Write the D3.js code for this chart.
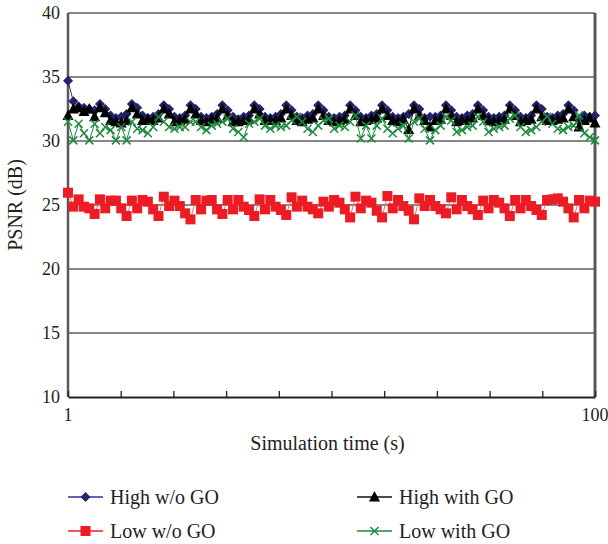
<!DOCTYPE html>
<html>
<head>
<meta charset="utf-8">
<script src="https://cdn.jsdelivr.net/npm/d3@7"></script>
<style>
  html, body { margin: 0; padding: 0; background: #fff; }
  svg { display: block; }
  text { font-family: "Liberation Serif", "DejaVu Serif", serif; fill: #231f20; }
</style>
</head>
<body>
<svg id="chart" width="608" height="544"></svg>
<script>
// Simulation time in seconds, one sample per second
const times = d3.range(1, 101);

// PSNR (dB) per second for each configuration
const highNoGO = [
  34.7, 33.1, 32.7, 32.6, 32.5, 32.4, 32.9, 32.5, 32.0, 31.8,
  31.9, 32.1, 32.9, 32.6, 32.0, 31.8, 31.9, 32.1, 32.8, 32.5,
  31.9, 31.8, 32.0, 32.8, 32.5, 31.9, 31.8, 31.9, 32.1, 32.8,
  32.4, 31.9, 31.7, 31.9, 32.0, 32.8, 32.5, 31.9, 31.8, 31.9,
  32.1, 32.8, 32.4, 31.9, 31.8, 32.0, 32.1, 32.8, 32.4, 31.9,
  31.8, 31.9, 32.0, 32.8, 32.4, 31.9, 31.8, 32.0, 32.1, 32.8,
  32.4, 31.9, 31.8, 31.9, 32.1, 32.8, 32.5, 31.8, 31.9, 31.9,
  32.0, 32.8, 32.4, 31.9, 31.8, 32.0, 32.1, 32.8, 32.4, 31.9,
  31.8, 31.9, 32.0, 32.8, 32.4, 31.9, 31.8, 32.0, 32.8, 32.5,
  31.9, 31.8, 32.0, 32.1, 32.8, 32.4, 31.7, 32.0, 31.9, 32.0
];
const highGO = [
  32.0, 32.5, 32.6, 32.3, 32.5, 31.9, 32.6, 32.2, 31.6, 31.5,
  31.4, 31.6, 32.6, 32.1, 31.6, 31.7, 31.6, 31.8, 32.5, 32.1,
  31.5, 31.6, 31.7, 32.5, 32.1, 31.6, 31.5, 31.7, 31.8, 32.5,
  32.0, 31.5, 31.5, 31.6, 31.7, 32.5, 32.1, 31.6, 31.6, 31.6,
  31.8, 32.5, 32.0, 31.6, 31.5, 31.7, 31.8, 32.5, 32.0, 31.6,
  31.5, 31.6, 31.7, 32.5, 32.0, 31.5, 31.6, 31.7, 31.8, 32.5,
  32.0, 31.6, 31.5, 31.7, 30.9, 32.5, 32.0, 31.6, 31.1, 31.6,
  31.7, 32.5, 32.0, 31.5, 31.6, 31.6, 31.8, 32.5, 32.0, 31.6,
  31.5, 31.6, 31.7, 32.5, 32.0, 31.5, 31.6, 31.7, 32.5, 31.9,
  31.6, 31.6, 31.7, 31.8, 32.5, 31.9, 31.1, 31.6, 31.8, 31.4
];
const lowNoGO = [
  25.96, 24.87, 25.44, 24.87, 24.74, 24.30, 25.44, 24.74, 25.34, 25.34,
  24.74, 24.14, 25.34, 24.74, 25.39, 25.26, 24.66, 24.14, 25.65, 24.92,
  25.34, 24.92, 24.35, 23.88, 25.39, 24.66, 25.34, 25.39, 24.66, 24.30,
  25.39, 24.66, 25.39, 24.87, 24.61, 24.14, 25.44, 24.66, 25.39, 24.87,
  24.61, 24.22, 25.60, 24.87, 25.34, 24.87, 24.66, 24.35, 25.26, 24.87,
  25.39, 25.18, 24.66, 24.03, 25.65, 24.74, 25.34, 25.18, 24.55, 24.03,
  25.70, 24.74, 25.39, 24.92, 24.55, 23.88, 25.52, 24.92, 25.39, 24.92,
  24.66, 24.35, 25.60, 24.66, 25.39, 24.92, 24.66, 24.22, 25.34, 24.74,
  25.39, 25.18, 24.74, 24.14, 25.39, 24.74, 25.39, 24.92, 24.61, 24.22,
  25.39, 25.44, 25.52, 25.26, 24.74, 24.03, 25.39, 24.74, 25.34, 25.26
];
const lowGO = [
  31.5, 30.05, 31.35, 30.6, 30.05, 31.35, 30.6, 31.1, 30.85, 30.05,
  31.1, 30.05, 31.5, 30.95, 30.85, 30.6, 31.1, 31.9, 31.5, 31.1,
  30.95, 31.1, 31.1, 31.5, 31.5, 31.1, 30.85, 31.2, 31.35, 31.5,
  31.75, 30.95, 30.7, 30.3, 31.35, 31.5, 31.75, 31.2, 30.95, 31.2,
  31.1, 31.2, 31.6, 31.9, 31.5, 30.95, 30.7, 31.2, 31.6, 31.75,
  30.95, 31.2, 31.1, 31.5, 32.0, 30.2, 31.2, 30.2, 31.2, 31.75,
  30.95, 30.6, 30.95, 31.2, 30.2, 31.5, 31.75, 30.95, 30.05, 30.85,
  31.2, 31.9, 31.6, 30.7, 30.85, 31.1, 31.2, 31.9, 31.5, 30.7,
  30.95, 31.1, 31.2, 31.75, 32.0, 31.1, 30.7, 30.85, 31.1, 31.5,
  31.9, 31.35, 30.95, 30.85, 31.1, 31.2, 32.0, 30.6, 30.3, 30.05
];

const yTicks = [10, 15, 20, 25, 30, 35, 40];
const xLabelValues = [1, 100];
const seriesNames = ["High w/o GO", "High with GO", "Low w/o GO", "Low with GO"];

const svg = d3.select("#chart");
const plot = { left: 68, right: 595, top: 13, bottom: 397 };

const x = d3.scaleLinear().domain([1, 100]).range([plot.left, plot.right]);
const y = d3.scaleLinear().domain([10, 40]).range([plot.bottom, plot.top]);

// Horizontal gridlines
svg.append("g")
  .selectAll("line")
  .data(yTicks.filter(d => d > 10))
  .join("line")
  .attr("x1", plot.left).attr("x2", plot.right)
  .attr("y1", d => y(d)).attr("y2", d => y(d))
  .attr("stroke", "#111").attr("stroke-width", 1.2);

// Y axis labels
svg.append("g")
  .selectAll("text")
  .data(yTicks)
  .join("text")
  .attr("x", plot.left - 8)
  .attr("y", d => y(d))
  .attr("dy", "0.35em")
  .attr("text-anchor", "end")
  .style("font-size", "18px")
  .text(d => d);

// Side frame lines
svg.append("line")
  .attr("x1", plot.left).attr("x2", plot.left)
  .attr("y1", plot.top).attr("y2", plot.bottom)
  .attr("stroke", "#595959").attr("stroke-width", 2.5);
svg.append("line")
  .attr("x1", plot.right).attr("x2", plot.right)
  .attr("y1", plot.top).attr("y2", plot.bottom)
  .attr("stroke", "#595959").attr("stroke-width", 3);

// X axis: ten equal intervals with inward ticks, labelled at the ends
const xAxis = d3.axisBottom(x)
  .tickValues(d3.range(0, 11).map(i => 1 + i * 9.9))
  .tickSizeInner(-6)
  .tickSizeOuter(0)
  .tickFormat("");
const gx = svg.append("g")
  .attr("transform", `translate(0,${plot.bottom})`)
  .call(xAxis);
gx.select(".domain").attr("stroke", "#222").attr("stroke-width", 2);
gx.selectAll(".tick line").attr("stroke", "#222").attr("stroke-width", 1.3);

svg.append("g")
  .selectAll("text")
  .data(xLabelValues)
  .join("text")
  .attr("x", d => x(d))
  .attr("y", plot.bottom + 24)
  .attr("text-anchor", "middle")
  .style("font-size", "18px")
  .text(d => d);

// Axis titles
svg.append("text")
  .attr("x", (plot.left + plot.right) / 2 - 4)
  .attr("y", 450)
  .attr("text-anchor", "middle")
  .style("font-size", "20px")
  .text("Simulation time (s)");
svg.append("text")
  .attr("transform", `translate(22,${(plot.top + plot.bottom) / 2}) rotate(-90)`)
  .attr("text-anchor", "middle")
  .style("font-size", "20px")
  .text("PSNR (dB)");

// Marker shapes
const markers = {
  diamond: (g, cx, cy, color) => g.append("path")
    .attr("d", `M${cx},${cy - 5}L${cx + 5},${cy}L${cx},${cy + 5}L${cx - 5},${cy}Z`)
    .attr("fill", color),
  triangle: (g, cx, cy, color) => g.append("path")
    .attr("d", `M${cx},${cy - 6}L${cx + 5.5},${cy + 4.5}L${cx - 5.5},${cy + 4.5}Z`)
    .attr("fill", color),
  square: (g, cx, cy, color) => g.append("rect")
    .attr("x", cx - 5).attr("y", cy - 5).attr("width", 10).attr("height", 10)
    .attr("fill", color),
  cross: (g, cx, cy, color) => g.append("path")
    .attr("d", `M${cx - 4},${cy - 4}L${cx + 4},${cy + 4}M${cx + 4},${cy - 4}L${cx - 4},${cy + 4}`)
    .attr("stroke", color).attr("stroke-width", 1.5).attr("fill", "none")
};

const series = [
  { name: seriesNames[0], values: highNoGO, line: "#2e3192", mark: "#23236b", shape: "diamond" },
  { name: seriesNames[2], values: lowNoGO, line: "#f26b6b", mark: "#ed1c24", shape: "square" },
  { name: seriesNames[1], values: highGO, line: "#111111", mark: "#000000", shape: "triangle" },
  { name: seriesNames[3], values: lowGO, line: "#1e8a3e", mark: "#1e8a3e", shape: "cross" }
];

const line = d3.line().x((d, i) => x(times[i])).y(d => y(d));

series.forEach(s => {
  const g = svg.append("g");
  g.append("path")
    .attr("d", line(s.values))
    .attr("fill", "none")
    .attr("stroke", s.line)
    .attr("stroke-width", 1);
  s.values.forEach((v, i) => markers[s.shape](g, x(times[i]), y(v), s.mark));
});

// Legend
const legendItems = [
  { name: seriesNames[0], line: "#2e3192", mark: "#23236b", shape: "diamond", lx: 68, ly: 497 },
  { name: seriesNames[1], line: "#111111", mark: "#000000", shape: "triangle", lx: 357, ly: 497 },
  { name: seriesNames[2], line: "#ed1c24", mark: "#ed1c24", shape: "square", lx: 68, ly: 531 },
  { name: seriesNames[3], line: "#1e8a3e", mark: "#1e8a3e", shape: "cross", lx: 357, ly: 531 }
];
const lg = svg.append("g");
legendItems.forEach(it => {
  lg.append("line")
    .attr("x1", it.lx).attr("x2", it.lx + 35)
    .attr("y1", it.ly).attr("y2", it.ly)
    .attr("stroke", it.line).attr("stroke-width", 1.3);
  markers[it.shape](lg, it.lx + 17.5, it.ly, it.mark);
  lg.append("text")
    .attr("x", it.lx + 42)
    .attr("y", it.ly)
    .attr("dy", "0.35em")
    .style("font-size", "20px")
    .text(it.name);
});
</script>
</body>
</html>
